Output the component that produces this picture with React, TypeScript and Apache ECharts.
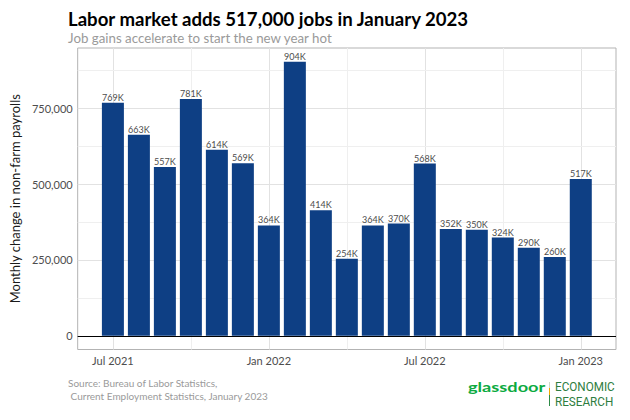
import React, { useEffect, useRef } from "react";
import * as echarts from "echarts";

const months = [
  "Jul 2021", "Aug 2021", "Sep 2021", "Oct 2021", "Nov 2021", "Dec 2021",
  "Jan 2022", "Feb 2022", "Mar 2022", "Apr 2022", "May 2022", "Jun 2022",
  "Jul 2022", "Aug 2022", "Sep 2022", "Oct 2022", "Nov 2022", "Dec 2022",
  "Jan 2023",
];
const jobs = [
  769000, 663000, 557000, 781000, 614000, 569000,
  364000, 904000, 414000, 254000, 364000, 370000,
  568000, 352000, 350000, 324000, 290000, 260000,
  517000,
];
const xTickIdx = [0, 6, 12, 18];
const xMinorIdx = [3, 9, 15];
const yTicks = [0, 250000, 500000, 750000];
const yMinor = [125000, 375000, 625000, 875000];

const FONT = "Lato";
const BAR = "#0e3f84";
const GREEN = "#0caa41";

export default function App() {
  const ref = useRef<HTMLDivElement>(null);
  useEffect(() => {
    const chart = echarts.init(ref.current!, undefined, { renderer: "svg" });
    const majorStyle = { color: "#e2e2e2", width: 1, type: "solid" };
    const minorStyle = { color: "#efefef", width: 1, type: "solid" };
    const gridLines = [
      ...xTickIdx.map((x) => ({ xAxis: x, lineStyle: majorStyle })),
      ...xMinorIdx.map((x) => ({ xAxis: x, lineStyle: minorStyle })),
      ...yTicks.filter((y) => y !== 0).map((y) => ({ yAxis: y, lineStyle: majorStyle })),
      ...yMinor.map((y) => ({ yAxis: y, lineStyle: minorStyle })),
    ];
    chart.setOption({
      animation: false,
      textStyle: { fontFamily: FONT },
      grid: {
        left: 68.5,
        right: 14,
        top: 48,
        bottom: 70.5,
        show: true,
        borderColor: "#b3b3b3",
        borderWidth: 1,
        backgroundColor: "#ffffff",
      },
      xAxis: {
        type: "value",
        min: -1.355,
        max: 19.355,
        axisLine: { show: false },
        axisTick: {
          show: true,
          customValues: xTickIdx,
          length: 3,
          lineStyle: { color: "#b3b3b3" },
        },
        axisLabel: {
          customValues: xTickIdx,
          formatter: (v: number) => months[Math.round(v)],
          color: "#4d4d4d",
          fontSize: 11,
          fontFamily: FONT,
          margin: 5,
        },
        splitLine: { show: false },
      },
      yAxis: {
        type: "value",
        min: -45200,
        max: 949200,
        name: "Monthly change in non-farm payrolls",
        nameLocation: "middle",
        nameGap: 51,
        nameTextStyle: { color: "#1a1a1a", fontSize: 13, fontFamily: FONT },
        axisLine: { show: false },
        axisTick: {
          show: true,
          customValues: yTicks,
          length: 3,
          lineStyle: { color: "#b3b3b3" },
        },
        axisLabel: {
          customValues: yTicks,
          formatter: (v: number) => v.toLocaleString("en-US"),
          color: "#4d4d4d",
          fontSize: 11,
          fontFamily: FONT,
          margin: 5,
        },
        splitLine: { show: false },
      },
      series: [
        {
          type: "bar",
          data: jobs.map((v, i) => [i, v]),
          barWidth: 22,
          itemStyle: { color: BAR },
          label: {
            show: true,
            position: "top",
            distance: 1,
            formatter: (p: any) => Math.round(p.value[1] / 1000) + "K",
            color: "#4d4d4d",
            fontSize: 9,
            fontFamily: FONT,
          },
          markLine: {
            silent: true,
            symbol: "none",
            z: 1,
            label: { show: false },
            data: gridLines,
          },
        },
        {
          type: "line",
          data: jobs.map((v, i) => [i, v]),
          showSymbol: false,
          silent: true,
          lineStyle: { opacity: 0, width: 0 },
          markLine: {
            silent: true,
            symbol: "none",
            z: 10,
            label: { show: false },
            data: [{ yAxis: 0, lineStyle: { color: "#000000", width: 1, type: "solid" } }],
          },
        },
      ],
      graphic: [
        {
          type: "text",
          left: 68,
          top: 9,
          style: {
            text: "Labor market adds 517,000 jobs in January 2023",
            fontFamily: FONT,
            fontWeight: "bold",
            fontSize: 18.6,
            lineHeight: 19,
            fill: "#000000",
          },
        },
        {
          type: "text",
          left: 68,
          top: 30.5,
          style: {
            text: "Job gains accelerate to start the new year hot",
            fontFamily: FONT,
            fontSize: 13.3,
            lineHeight: 14,
            fill: "#9a9a9a",
          },
        },
        {
          type: "text",
          left: 68,
          top: 376,
          style: {
            text: "Source: Bureau of Labor Statistics,\n Current Employment Statistics, January 2023",
            fontFamily: FONT,
            fontSize: 10,
            lineHeight: 13,
            fill: "#9a9a9a",
          },
        },
        {
          type: "text",
          x: 468,
          y: 380,
          scaleX: 1.4,
          style: {
            text: "glassdoor",
            fontFamily: FONT,
            fontWeight: "bold",
            fontSize: 13,
            fill: GREEN,
          },
        },
        {
          type: "line",
          shape: { x1: 549.5, y1: 382, x2: 549.5, y2: 388 },
          style: { stroke: "#cfd8c8", lineWidth: 1 },
        },
        {
          type: "line",
          shape: { x1: 549.5, y1: 388, x2: 549.5, y2: 395 },
          style: { stroke: "#f2a900", lineWidth: 1 },
        },
        {
          type: "line",
          shape: { x1: 549.5, y1: 395, x2: 549.5, y2: 406 },
          style: { stroke: "#2e8b46", lineWidth: 1 },
        },
        {
          type: "text",
          x: 555,
          y: 380,
          scaleX: 0.9,
          style: {
            text: "ECONOMIC\nRESEARCH",
            fontFamily: "Roboto",
            fontSize: 13,
            lineHeight: 14.5,
            fill: "#2e7d40",
          },
        },
      ],
    });
    return () => chart.dispose();
  }, []);
  return (
    <div
      ref={ref}
      style={{ position: "absolute", left: 0, top: 0, width: 630, height: 420 }}
    />
  );
}
